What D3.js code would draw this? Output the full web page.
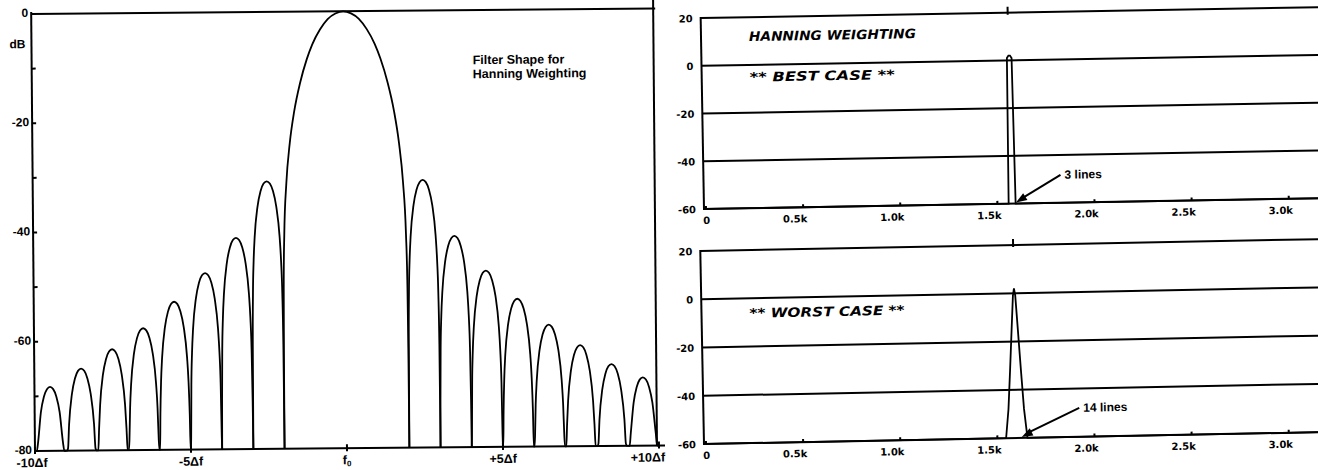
<!DOCTYPE html>
<html>
<head>
<meta charset="utf-8">
<title>Hanning filter shape and spectra</title>
<script src="https://d3js.org/d3.v7.min.js"></script>
<style>
    body { margin: 0; background: #fff; }
    svg text { fill: #000; font-weight: bold; }
    .lbl { font-family: "Liberation Sans", Arial, sans-serif; }
    .plot { font-family: "DejaVu Sans", sans-serif; }
    .ax { stroke: #000; stroke-width: 2; fill: none; }
    .curve { stroke: #000; stroke-width: 1.8; fill: none; }
</style>
</head>
<body>
<script>
// ---- left: filter shape (dB against bins) ----
var binTicks = [-10, -5, 0, 5, 10];
var binLabels = ["-10Δf", "-5Δf", "f", "+5Δf", "+10Δf"];
var dbTicks = [0, -20, -40, -60, -80];
var dbMinor = [-10, -30, -50, -70];

// main lobe, offset from f0 in bins -> dB
var mainOffset = [0, 0.25, 0.5, 0.75, 1.0, 1.18, 1.4, 1.6, 1.75, 1.87, 1.95, 1.98, 1.995];
var mainDb = [0, -0.4, -1.4, -3.3, -6.0, -8.7, -13, -18.3, -24.1, -31.4, -40.8, -49.2, -62];

// side lobes: left edge in bins and peak level
var lobeStart = [-10, -9, -8, -7, -6, -5, -4, -3, 2, 3, 4, 5, 6, 7, 8, 9];
var lobePeak = [-68.3, -65.0, -61.5, -57.7, -52.9, -47.7, -41.3, -31.0,
                -31.0, -41.3, -47.7, -52.9, -57.7, -61.5, -65.0, -67.5];
// shape of one lobe across its bin (fraction, drop from peak in dB)
var lobeT = [0, 0.01, 0.03, 0.06, 0.1, 0.2, 0.3, 0.4, 0.5, 0.6, 0.7, 0.8, 0.9, 0.94, 0.97, 0.99, 1];
var lobeDrop = [-90, -30, -20.5, -14.6, -10.2, -4.6, -1.8, -0.4, 0, -0.4, -1.8, -4.6, -10.2, -14.6, -20.5, -30, -90];

// ---- right: measured spectra ----
var freqTicks = [0, 0.5, 1.0, 1.5, 2.0, 2.5, 3.0];
var freqLabels = ["0", "0.5k", "1.0k", "1.5k", "2.0k", "2.5k", "3.0k"];
var levelTicks = [20, 0, -20, -40, -60];
var bestFreq = [0, 1.558, 1.562, 1.570, 1.578, 1.586, 1.594, 1.598, 3.2];
var bestDb = [-60, -60, 1, 2, 2, 1, -60, -60, -60];
var worstFreq = [0, 1.545, 1.560, 1.572, 1.584, 1.594, 1.600, 1.606, 1.616, 1.628, 1.640, 1.655, 3.2];
var worstDb = [-60, -60, -48, -32, -15, -1, 2, -1, -15, -32, -48, -60, -60];

var W = 1318, H = 470;
var svg = d3.select("body").append("svg")
    .attr("width", W).attr("height", H);

// left chart
var x = d3.scaleLinear().domain([-10, 10]).range([35, 659]);
var y = d3.scaleLinear().domain([-80, 0]).range([451, 14]);
var gl = svg.append("g").attr("transform", "rotate(-0.5,35,451)");

gl.append("line").attr("class", "ax")
    .attr("x1", x(-10)).attr("x2", x(-10)).attr("y1", 12).attr("y2", y(-80) + 1);
gl.append("line").attr("class", "ax")
    .attr("x1", x(-10)).attr("x2", x(10)).attr("y1", y(0)).attr("y2", y(0));
gl.append("line").attr("class", "ax")
    .attr("x1", x(-10)).attr("x2", x(10) + 6).attr("y1", y(-80)).attr("y2", y(-80));
gl.append("line").attr("class", "ax")
    .attr("x1", 657).attr("x2", 657).attr("y1", 0).attr("y2", y(-80));

gl.selectAll(".ytk").data(dbTicks.concat(dbMinor)).enter().append("line")
    .attr("class", "ax")
    .attr("x1", x(-10)).attr("x2", x(-10) + 4)
    .attr("y1", function(d) { return y(d); }).attr("y2", function(d) { return y(d); });
gl.selectAll(".ylab").data(dbTicks).enter().append("text")
    .attr("class", "lbl").attr("font-size", 12)
    .attr("text-anchor", "end")
    .attr("x", x(-10) - 3).attr("y", function(d) { return y(d) + 3; })
    .text(function(d) { return d === 0 ? "0" : "-" + Math.abs(d); });
gl.append("text").attr("class", "lbl").attr("font-size", 12)
    .attr("text-anchor", "end").attr("x", x(-10) - 6).attr("y", 48).text("dB");

gl.selectAll(".xtk").data(binTicks).enter().append("line")
    .attr("class", "ax").attr("stroke-width", 1.5)
    .attr("x1", function(d) { return x(d); }).attr("x2", function(d) { return x(d); })
    .attr("y1", y(-80) - 4).attr("y2", y(-80) + 3);
gl.selectAll(".xlab").data(binTicks).enter().append("text")
    .attr("class", "lbl").attr("font-size", 12.5)
    .attr("text-anchor", function(d, i) { return i === binTicks.length - 1 ? "end" : "middle"; })
    .attr("x", function(d, i) { return i === binTicks.length - 1 ? x(d) + 6 : x(d) - (i === 0 ? 3 : 0); })
    .attr("y", 467)
    .each(function(d, i) {
        var t = d3.select(this).text(binLabels[i]);
        if (d === 0) t.append("tspan").attr("font-size", 8).attr("dy", 2).text("0");
    });

var clampDb = function(v) { return Math.max(v, -80); };
var lineLeft = d3.line()
    .x(function(p) { return x(p[0]); })
    .y(function(p) { return y(clampDb(p[1])); })
    .curve(d3.curveMonotoneX);

var mainPts = [];
for (var i = mainOffset.length - 1; i > 0; i--) mainPts.push([-mainOffset[i], mainDb[i]]);
for (var i = 0; i < mainOffset.length; i++) mainPts.push([mainOffset[i], mainDb[i]]);
mainPts.unshift([-2, -80]);
mainPts.push([2, -80]);
gl.append("path").attr("class", "curve").attr("d", lineLeft(mainPts));

gl.selectAll(".lobe").data(lobeStart).enter().append("path")
    .attr("class", "curve")
    .attr("d", function(s, j) {
        return lineLeft(lobeT.map(function(t, k) { return [s + t, lobePeak[j] + lobeDrop[k]]; }));
    });

gl.append("text").attr("class", "lbl").attr("font-size", 12.5)
    .attr("x", 476).attr("y", 68).text("Filter Shape for");
gl.append("text").attr("class", "lbl").attr("font-size", 12.5)
    .attr("x", 476).attr("y", 82).text("Hanning Weighting");

// right panels
var xf = d3.scaleLinear().domain([0, 3.15]).range([706, 1318]);

function panel(top, bottom, freqs, dbs, angle, texts, note) {
    var yl = d3.scaleLinear().domain([-60, 20]).range([bottom, top]);
    var g = svg.append("g").attr("transform", "rotate(" + angle + ",704," + bottom + ")");
    g.append("line").attr("class", "ax")
        .attr("x1", 704).attr("x2", 704).attr("y1", yl(20) - 1).attr("y2", yl(-60) + 1);
    g.selectAll(".grid").data(levelTicks).enter().append("line")
        .attr("class", "ax")
        .attr("x1", 704).attr("x2", W + 20)
        .attr("y1", function(d) { return yl(d); }).attr("y2", function(d) { return yl(d); });
    g.selectAll(".ylab").data(levelTicks).enter().append("text")
        .attr("class", "plot").attr("font-size", 10)
        .attr("text-anchor", "end").attr("x", 696)
        .attr("y", function(d) { return yl(d) + 4; })
        .text(function(d) { return d > 0 ? String(d) : (d === 0 ? "0" : "-" + Math.abs(d)); });
    g.selectAll(".xlab").data(freqTicks).enter().append("text")
        .attr("class", "plot").attr("font-size", 10)
        .attr("text-anchor", "end")
        .attr("x", function(d) { return xf(d) + 4; })
        .attr("y", yl(-60) + 15)
        .text(function(d, i) { return freqLabels[i]; });
    g.selectAll(".xtk").data(freqTicks).enter().append("line")
        .attr("class", "ax").attr("stroke-width", 1)
        .attr("x1", function(d) { return xf(d); }).attr("x2", function(d) { return xf(d); })
        .attr("y1", yl(-60) - 3).attr("y2", yl(-60));
    var line = d3.line()
        .x(function(d, i) { return xf(freqs[i]); })
        .y(function(d) { return yl(d); });
    g.append("path").attr("class", "curve").attr("stroke-width", 1.5).attr("d", line(dbs));
    var pk = freqs[dbs.indexOf(d3.max(dbs))];
    g.append("line").attr("class", "ax").attr("stroke-width", 1.5)
        .attr("x1", xf(pk)).attr("x2", xf(pk)).attr("y1", yl(20) - 6).attr("y2", yl(20) + 2);
    texts.forEach(function(t) {
        g.append("text").attr("class", "plot").attr("font-style", "italic")
            .attr("font-size", 13).attr("x", 752).attr("y", yl(t[0]))
            .attr("textLength", t[2]).attr("lengthAdjust", "spacingAndGlyphs")
            .text(t[1]);
    });
    var ax = xf(pk) + 5, ay = yl(-60) - 1;
    var tx = ax + note[1], ty = ay - note[2];
    g.append("line").attr("class", "ax").attr("stroke-width", 1.8)
        .attr("x1", tx).attr("y1", ty).attr("x2", ax + 6).attr("y2", ay - 4);
    var ang = Math.atan2(ty - ay, tx - ax);
    var hp = [[ax, ay],
        [ax + 11 * Math.cos(ang) - 4 * Math.sin(ang), ay + 11 * Math.sin(ang) + 4 * Math.cos(ang)],
        [ax + 11 * Math.cos(ang) + 4 * Math.sin(ang), ay + 11 * Math.sin(ang) - 4 * Math.cos(ang)]];
    g.append("path").attr("fill", "#000").attr("d", "M" + hp.join("L") + "Z");
    g.append("text").attr("class", "lbl").attr("font-size", 12)
        .attr("x", tx + 4).attr("y", ty + 4).text(note[0]);
}

panel(18, 209, bestFreq, bestDb, -1.0,
    [[10, "HANNING WEIGHTING", 167], [-7, "** BEST CASE **", 145]],
    ["3 lines", 45, 27]);
panel(251, 444, worstFreq, worstDb, -1.1,
    [[-8, "** WORST CASE **", 155]],
    ["14 lines", 58, 28]);
</script>
</body>
</html>
